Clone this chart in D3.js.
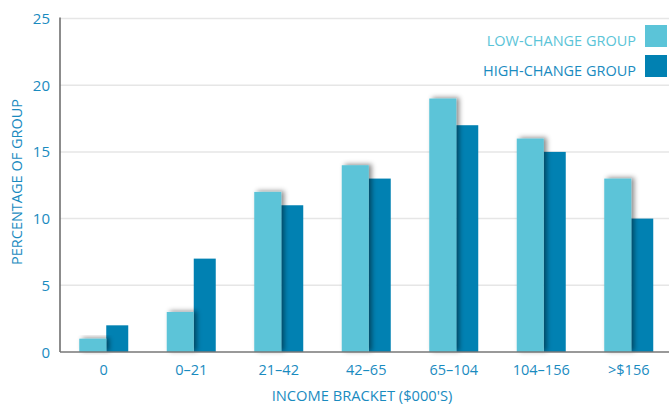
<!DOCTYPE html>
<html>
<head>
<meta charset="utf-8">
<script src="https://cdn.jsdelivr.net/npm/d3@7"></script>
<style>
  html, body { margin: 0; padding: 0; background: #fff; }
  svg { display: block; font-family: "Open Sans", "Noto Sans", sans-serif; }
</style>
</head>
<body>
<svg id="chart" width="669" height="405"></svg>
<script>
const categories = ["0", "0\u201321", "21\u201342", "42\u201365", "65\u2013104", "104\u2013156", ">$156"];
const lowChange = [1, 3, 12, 14, 19, 16, 13];
const highChange = [2, 7, 11, 13, 17, 15, 10];
const yTicks = [0, 5, 10, 15, 20, 25];
const seriesNames = ["LOW-CHANGE GROUP", "HIGH-CHANGE GROUP"];
const colors = ["#5bc4d8", "#0181b2"];
const textColor = "#1a8bbf";

const svg = d3.select("#chart");
const plotLeft = 60, plotRight = 669, plotTop = 18.5, plotBottom = 352;

const x = d3.scaleBand().domain(categories).range([60, 672.5]).padding(0);
const y = d3.scaleLinear().domain([0, 25]).range([plotBottom, plotTop]);

const defs = svg.append("defs");
const f = defs.append("filter").attr("id", "shadow")
  .attr("x", "-50%").attr("y", "-20%").attr("width", "200%").attr("height", "140%");
f.append("feDropShadow").attr("dx", 3).attr("dy", -1).attr("stdDeviation", 2.5)
  .attr("flood-color", "#000").attr("flood-opacity", 0.45);

// gridlines
svg.append("g").selectAll("line").data(yTicks.filter(d => d > 0)).join("line")
  .attr("x1", plotLeft).attr("x2", plotRight)
  .attr("y1", d => y(d)).attr("y2", d => y(d))
  .attr("stroke", "#e6e6e6").attr("stroke-width", 1.5);

// y tick labels
svg.append("g").selectAll("text").data(yTicks).join("text")
  .attr("x", 50).attr("y", d => y(d) + 5.5)
  .attr("text-anchor", "end")
  .attr("fill", textColor).attr("font-size", 15)
  .text(d => d);

const c = d => x(d) + x.bandwidth() / 2;

// dark bars
svg.append("g").selectAll("rect").data(categories).join("rect")
  .attr("x", d => c(d) + 2.5)
  .attr("width", 22)
  .attr("y", (d, i) => y(highChange[i]))
  .attr("height", (d, i) => plotBottom - y(highChange[i]))
  .attr("fill", colors[1]);

// light bars with shadow
svg.append("g").selectAll("rect").data(categories).join("rect")
  .attr("x", d => c(d) - 24.5)
  .attr("width", 27)
  .attr("y", (d, i) => y(lowChange[i]))
  .attr("height", (d, i) => plotBottom - y(lowChange[i]))
  .attr("fill", colors[0])
  .attr("filter", "url(#shadow)");

// axes lines
svg.append("line").attr("x1", plotLeft).attr("x2", plotLeft).attr("y1", plotTop - 1).attr("y2", plotBottom)
  .attr("stroke", "#666").attr("stroke-width", 1.5);
svg.append("line").attr("x1", plotLeft).attr("x2", plotRight).attr("y1", plotBottom).attr("y2", plotBottom)
  .attr("stroke", "#777").attr("stroke-width", 1.5);

// x tick labels
svg.append("g").selectAll("text").data(categories).join("text")
  .attr("x", d => c(d)).attr("y", 375)
  .attr("text-anchor", "middle")
  .attr("fill", textColor).attr("font-size", 14.5)
  .text(d => d);

// axis titles
svg.append("text").attr("x", 362).attr("y", 401)
  .attr("text-anchor", "middle").attr("fill", textColor).attr("font-size", 14.7)
  .text("INCOME BRACKET ($000'S)");
svg.append("text").attr("transform", "translate(22,182) rotate(-90)")
  .attr("text-anchor", "middle").attr("fill", textColor).attr("font-size", 14.5)
  .text("PERCENTAGE OF GROUP");

// legend
const lg = svg.append("g");
seriesNames.forEach((name, i) => {
  const yy = 25 + i * 30;
  lg.append("rect").attr("x", 645).attr("y", yy).attr("width", 22).attr("height", 22)
    .attr("fill", colors[i]);
  lg.append("text").attr("x", 636).attr("y", yy + 20.5)
    .attr("text-anchor", "end").attr("font-size", 14.5)
    .attr("fill", i === 0 ? colors[0] : textColor)
    .text(name);
});
</script>
</body>
</html>
